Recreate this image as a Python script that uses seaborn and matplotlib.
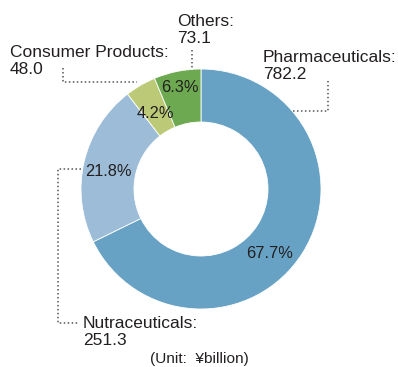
import matplotlib
matplotlib.use("Agg")
import matplotlib.pyplot as plt
import seaborn as sns

# Net sales by segment (¥ billion)
segments = ["Pharmaceuticals", "Nutraceuticals", "Consumer Products", "Others"]
sales = [782.2, 251.3, 48.0, 73.1]
colors = ["#67a2c5", "#9cbcd7", "#bcca77", "#6da951"]
unit_note = "(Unit:  \u00a5billion)"

sns.set_theme(style="white")
plt.rcParams["font.family"] = ["Liberation Sans", "DejaVu Sans"]

W, H = 398, 367
fig = plt.figure(figsize=(W / 100, H / 100), dpi=100)
ax = fig.add_axes([0, 0, 1, 1])


def Y(y):
    # top-down pixel row to axis coordinate
    return H - y


cx, cy, r_out, r_in = 201, Y(189), 120, 67
total = sum(sales)
pcts = [v / total * 100 for v in sales]

wedges, _ = ax.pie(
    sales, colors=colors, startangle=90, counterclock=False,
    center=(cx, cy), radius=r_out, frame=True,
    wedgeprops=dict(width=r_out - r_in, edgecolor="white", linewidth=0.6),
)
ax.set_xlim(0, W)
ax.set_ylim(0, H)
ax.set_aspect("equal")
ax.axis("off")

txt = "#231f20"
fs_name = 12.5
fs_pct = 11.8

# percentage labels inside the ring
pct_pos = [(270, 253), (108, 172), (155, 113), (180, 87)]
for (x, y), p in zip(pct_pos, pcts):
    ax.text(x, Y(y), f"{p:.1f}%", ha="center", va="center", fontsize=fs_pct, color=txt)

# segment names and values
name_pos = [(263, 66), (83, 332), (10, 61), (177, 30)]
for (x, y), name, v in zip(name_pos, segments, sales):
    ax.text(x, Y(y), f"{name}:\n{v:.1f}", ha="left", va="center", fontsize=fs_name,
            color=txt, linespacing=1.17)

ax.text(199, Y(359), unit_note, ha="center", va="center", fontsize=11.1, color=txt)

# dotted leader lines
lk = dict(color="#555555", linestyle=(0, (1, 1.6)), linewidth=1.1)
ax.plot([293, 328, 328], [Y(111), Y(111), Y(79)], **lk)
ax.plot([192, 192], [Y(50), Y(69)], **lk)
ax.plot([63, 63, 137], [Y(68), Y(82), Y(82)], **lk)
ax.plot([81, 58, 58, 79], [Y(169), Y(169), Y(323), Y(323)], **lk)

fig.savefig("out.png", dpi=100)
